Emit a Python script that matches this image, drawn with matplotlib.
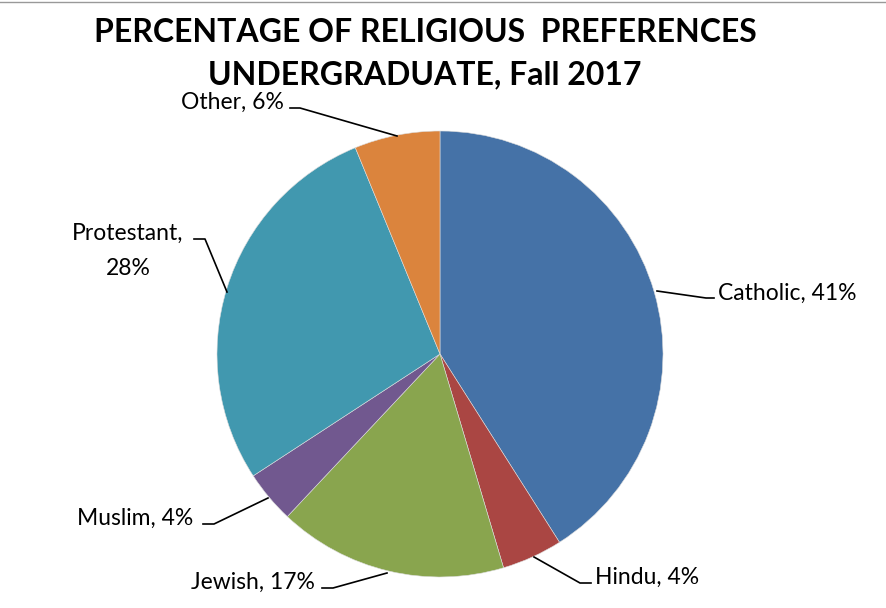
import matplotlib.pyplot as plt
from matplotlib.lines import Line2D

plt.rcParams['font.family'] = ['Lato', 'DejaVu Sans']

religions = ['Catholic', 'Hindu', 'Jewish', 'Muslim', 'Protestant', 'Other']
shares = [41.0, 4.4, 16.6, 3.8, 28.0, 6.2]
label_text = ['Catholic, 41%', 'Hindu, 4%', 'Jewish, 17%', 'Muslim, 4%', 'Protestant,\n28%', 'Other, 6%']
colors = ['#4572A7', '#AA4643', '#89A54E', '#71588F', '#4198AF', '#DB843D']

W, H = 886, 608
cx, cy, r = 440, 354, 223

fig = plt.figure(figsize=(W / 100, H / 100), dpi=100)
ax = fig.add_axes([(cx - r) / W, (H - cy - r) / H, 2 * r / W, 2 * r / H])
ax.pie(shares, colors=colors, startangle=90, counterclock=False, radius=1,
       wedgeprops=dict(linewidth=0.4, edgecolor='#dddddd'))
ax.set_xlim(-1, 1)
ax.set_ylim(-1, 1)
ax.set_aspect('equal')
ax.axis('off')


def d(px, py):
    # pixel position -> data units of the pie axes
    return ((px - cx) / r, (cy - py) / r)


# label anchor (pixels), alignment, leader line points (pixels)
label_pos = {
    'Catholic': ((718, 293), 'left', [(657, 291), (706, 298), (714, 298)]),
    'Hindu': ((595, 577), 'left', [(534, 557), (580, 583), (591, 583)]),
    'Jewish': ((253, 582), 'center', [(322, 588), (333, 588), (387, 573)]),
    'Muslim': ((135, 518), 'center', [(203, 524), (214, 524), (268, 498)]),
    'Protestant': ((128, 251), 'center', [(194, 239), (205, 239), (227, 292)]),
    'Other': ((232, 102), 'center', [(290, 108), (300, 108), (397, 136)]),
}

for name, txt in zip(religions, label_text):
    (px, py), ha, pts = label_pos[name]
    x, y = d(px, py)
    ax.text(x, y, txt, ha=ha, va='center', fontsize=16.5, color='#000000',
            linespacing=1.8)
    xs = [d(a, b)[0] for a, b in pts]
    ys = [d(a, b)[1] for a, b in pts]
    ax.add_line(Line2D(xs, ys, color='black', linewidth=1.2, clip_on=False))

fig.text(425 / W, 1 - 33 / H, 'PERCENTAGE OF RELIGIOUS  PREFERENCES',
         ha='center', va='center', fontsize=23, fontweight='bold')
fig.text(425 / W, 1 - 75 / H, 'UNDERGRADUATE, Fall 2017',
         ha='center', va='center', fontsize=23, fontweight='bold')

fig.add_artist(Line2D([0, 1], [1 - 1.5 / H, 1 - 1.5 / H], color='#999999',
                      linewidth=1, transform=fig.transFigure))

fig.savefig('out.png', dpi=100)
